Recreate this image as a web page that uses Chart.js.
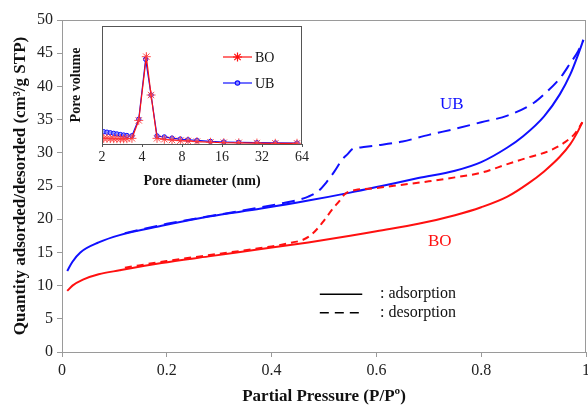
<!DOCTYPE html>
<html>
<head>
<meta charset="utf-8">
<script src="https://cdn.jsdelivr.net/npm/chart.js@4/dist/chart.umd.min.js"></script>
<style>
  body { margin: 0; background: #fff; }
  #wrap { position: relative; width: 588px; height: 407px; overflow: hidden; }
  #main { position: absolute; left: 0; top: 0; }
  #inset { position: absolute; left: 66px; top: 20px; }
</style>
</head>
<body>
<div id="wrap">
  <canvas id="main" width="588" height="407"></canvas>
  <canvas id="inset" width="250" height="172"></canvas>
</div>
<script>
// isotherms, P/P0 vs quantity (cm3/g STP)
const boAdsX = [0.01, 0.02, 0.04, 0.07, 0.11, 0.19, 0.28, 0.38, 0.47, 0.55, 0.6, 0.68, 0.75, 0.8, 0.85, 0.89, 0.92, 0.95, 0.97, 0.985, 0.993]
const boAdsY = [9.2, 10.0, 10.9, 11.7, 12.3, 13.4, 14.4, 15.5, 16.5, 17.5, 18.2, 19.3, 20.6, 21.8, 23.4, 25.4, 27.2, 29.4, 31.3, 33.3, 34.6]
const boDesX = [0.12, 0.2, 0.3, 0.4, 0.44, 0.46, 0.475, 0.49, 0.5, 0.515, 0.53, 0.54, 0.55, 0.56, 0.6, 0.65, 0.7, 0.75, 0.8, 0.85, 0.89, 0.93, 0.96, 0.98, 0.993]
const boDesY = [12.7, 13.7, 14.8, 15.9, 16.5, 16.9, 17.6, 18.8, 19.8, 21.4, 22.8, 23.8, 24.2, 24.4, 24.7, 25.2, 25.7, 26.3, 27.0, 28.3, 29.3, 30.3, 31.6, 33.0, 34.6]
const ubAdsX = [0.01, 0.02, 0.035, 0.07, 0.11, 0.19, 0.28, 0.38, 0.47, 0.55, 0.61, 0.68, 0.75, 0.8, 0.85, 0.88, 0.92, 0.95, 0.97, 0.985, 0.995]
const ubAdsY = [12.2, 13.6, 15.0, 16.5, 17.6, 19.0, 20.4, 21.6, 22.8, 24.0, 25.0, 26.2, 27.3, 28.6, 30.8, 32.5, 35.5, 38.8, 41.8, 44.8, 47.0]
const ubDesX = [0.12, 0.2, 0.3, 0.38, 0.42, 0.45, 0.47, 0.49, 0.505, 0.52, 0.535, 0.545, 0.555, 0.57, 0.6, 0.65, 0.7, 0.75, 0.8, 0.85, 0.9, 0.92, 0.95, 0.97, 0.985, 0.995]
const ubDesY = [17.9, 19.3, 20.7, 21.8, 22.4, 22.9, 23.4, 24.3, 25.6, 27.2, 29.0, 29.8, 30.6, 30.8, 31.1, 31.7, 32.7, 33.6, 34.6, 35.6, 37.5, 38.8, 41.2, 43.5, 45.3, 47.0]

// inset: pore size distribution (relative units)
const poreTicks = [2, 4, 8, 16, 32, 64]
const boPoreX = [2.06, 2.18, 2.31, 2.45, 2.59, 2.75, 2.91, 3.08, 3.36, 3.78, 4.31, 4.68, 5.19, 5.89, 6.73, 7.77, 8.88, 10.37, 13.1, 16.5, 21.4, 29.3, 40.3, 58.7]
const boPoreY = [0.048, 0.048, 0.046, 0.045, 0.045, 0.044, 0.044, 0.045, 0.048, 0.2, 0.74, 0.415, 0.048, 0.04, 0.034, 0.028, 0.026, 0.02, 0.015, 0.011, 0.01, 0.008, 0.006, 0.006]
const ubPoreX = [2.06, 2.18, 2.31, 2.45, 2.59, 2.75, 2.91, 3.08, 3.36, 3.78, 4.26, 4.68, 5.19, 5.89, 6.73, 7.77, 8.88, 10.37, 13.1, 16.5, 21.4, 29.3, 40.3, 58.7]
const ubPoreY = [0.104, 0.1, 0.095, 0.09, 0.085, 0.08, 0.076, 0.072, 0.07, 0.21, 0.718, 0.415, 0.068, 0.06, 0.05, 0.042, 0.036, 0.03, 0.022, 0.017, 0.014, 0.011, 0.009, 0.008]

const RED = '#ff1010'
const BLUE = '#1010ff'
const SERIF = '"Liberation Serif", "Times New Roman", serif'

function pts(xs, ys) {
    return xs.map((x, i) => ({ x: x, y: ys[i] }))
}

const frame = {
    id: 'frame',
    afterDraw(chart, args, opts) {
        const a = chart.chartArea
        const c = chart.ctx
        c.save()
        c.strokeStyle = opts.color
        c.lineWidth = 1
        c.strokeRect(a.left + 0.5, a.top + 0.5, a.right - a.left - 1, a.bottom - a.top)
        c.restore()
    }
}

const mainNotes = {
    id: 'mainNotes',
    afterDraw(chart) {
        const c = chart.ctx
        const x = chart.scales.x, y = chart.scales.y
        c.save()
        c.font = '17px ' + SERIF
        c.textAlign = 'center'
        c.textBaseline = 'middle'
        c.fillStyle = BLUE
        c.fillText('UB', x.getPixelForValue(0.744), y.getPixelForValue(37.2))
        c.fillStyle = RED
        c.fillText('BO', x.getPixelForValue(0.721), y.getPixelForValue(16.6))
        // line style key
        c.strokeStyle = '#000'
        c.lineWidth = 1.5
        const x0 = x.getPixelForValue(0.492), x1 = x.getPixelForValue(0.573)
        let yy = y.getPixelForValue(8.7)
        c.beginPath(); c.moveTo(x0, yy); c.lineTo(x1, yy); c.stroke()
        let yd = y.getPixelForValue(5.9)
        c.setLineDash([9, 6])
        c.beginPath(); c.moveTo(x0, yd); c.lineTo(x1, yd); c.stroke()
        c.setLineDash([])
        c.fillStyle = '#111'
        c.textAlign = 'left'
        c.font = '16px ' + SERIF
        const tx = x.getPixelForValue(0.607)
        c.fillText(': adsorption', tx, yy)
        c.fillText(': desorption', tx, yd)
        c.restore()
    }
}

new Chart(document.getElementById('main'), {
    type: 'line',
    data: {
        datasets: [
            { data: pts(boAdsX, boAdsY), borderColor: RED, borderWidth: 2 },
            { data: pts(boDesX, boDesY), borderColor: RED, borderWidth: 2, borderDash: [7, 5] },
            { data: pts(ubAdsX, ubAdsY), borderColor: BLUE, borderWidth: 2 },
            { data: pts(ubDesX, ubDesY), borderColor: BLUE, borderWidth: 2, borderDash: [13, 7] }
        ]
    },
    options: {
        responsive: false,
        animation: false,
        layout: { padding: { top: 20, right: 2, left: 0, bottom: 0 } },
        elements: { point: { radius: 0 }, line: { cubicInterpolationMode: 'monotone', fill: false } },
        plugins: { legend: { display: false }, tooltip: { enabled: false }, frame: { color: '#9a9a9a' } },
        scales: {
            x: {
                type: 'linear', min: 0, max: 1,
                afterFit: s => { s.height = 55; s.paddingRight = 0 },
                border: { color: '#9a9a9a' },
                grid: { drawOnChartArea: false, color: '#9a9a9a', tickLength: 5 },
                ticks: {
                    stepSize: 0.2, color: '#222', padding: 4,
                    font: { family: SERIF, size: 16 },
                    callback: v => String(Math.round(v * 10) / 10)
                },
                title: {
                    display: true, text: 'Partial Pressure (P/Pº)', color: '#111',
                    font: { family: SERIF, size: 17, weight: 'bold' }, padding: { top: 0, bottom: 0 }
                }
            },
            y: {
                min: 0, max: 50,
                afterFit: s => { s.width = 62 },
                border: { color: '#9a9a9a' },
                grid: { drawOnChartArea: false, color: '#9a9a9a', tickLength: 5 },
                ticks: { stepSize: 5, color: '#222', padding: 4, font: { family: SERIF, size: 16 } },
                title: {
                    display: true, text: 'Quantity adsorded/desorded (cm³/g STP)', color: '#111',
                    font: { family: SERIF, size: 17, weight: 'bold' }, padding: { top: 10, bottom: 0 }
                }
            }
        }
    },
    plugins: [frame, mainNotes]
})

const insetKey = {
    id: 'insetKey',
    afterDraw(chart) {
        const c = chart.ctx
        const a = chart.chartArea
        const ds = chart.data.datasets
        const x0 = a.left + 121, x1 = a.left + 150
        const rows = [[ds[0], 'BO', a.top + 31], [ds[1], 'UB', a.top + 57]]
        c.save()
        c.font = '14px ' + SERIF
        c.textBaseline = 'middle'
        c.textAlign = 'left'
        rows.forEach(r => {
            const d = r[0]
            c.strokeStyle = d.borderColor
            c.lineWidth = 1.2
            c.beginPath(); c.moveTo(x0, r[2]); c.lineTo(x1, r[2]); c.stroke()
            c.fillStyle = d.pointBackgroundColor || d.borderColor
            Chart.helpers.drawPoint(c, {
                pointStyle: d.pointStyle, radius: d.pointRadius, borderWidth: 1, rotation: 0
            }, (x0 + x1) / 2, r[2])
            c.fillStyle = '#111'
            c.fillText(r[1], x1 + 3, r[2] + 1)
        })
        c.restore()
    }
}

new Chart(document.getElementById('inset'), {
    type: 'line',
    data: {
        datasets: [
            {
                data: pts(boPoreX, boPoreY), borderColor: RED, borderWidth: 1.2,
                pointStyle: 'star', pointRadius: 4.5, pointBorderColor: 'rgba(255,60,60,0.9)', pointBorderWidth: 1
            },
            {
                data: pts(ubPoreX, ubPoreY), borderColor: BLUE, borderWidth: 1.2,
                pointStyle: 'circle', pointRadius: 2.2, pointBorderColor: BLUE,
                pointBackgroundColor: 'rgba(150,150,255,0.8)', pointBorderWidth: 1
            }
        ]
    },
    options: {
        responsive: false,
        animation: false,
        layout: { padding: { top: 6, right: 14, left: 0, bottom: 0 } },
        plugins: { legend: { display: false }, tooltip: { enabled: false }, frame: { color: '#555' } },
        scales: {
            x: {
                type: 'logarithmic', min: 2, max: 64,
                afterFit: s => { s.height = 48 },
                afterBuildTicks: s => { s.ticks = poreTicks.map(v => ({ value: v })) },
                border: { color: '#555' },
                grid: { drawOnChartArea: false, color: '#555', tickLength: 3 },
                ticks: {
                    color: '#222', padding: 2, autoSkip: false, maxRotation: 0,
                    font: { family: SERIF, size: 14 },
                    callback: v => String(v)
                },
                title: {
                    display: true, text: 'Pore diameter (nm)', color: '#111',
                    font: { family: SERIF, size: 14, weight: 'bold' }, padding: { top: 0, bottom: 2 }
                }
            },
            y: {
                min: 0, max: 1,
                afterFit: s => { s.width = 36 },
                border: { color: '#555' },
                grid: { display: false },
                ticks: { display: false },
                title: {
                    display: true, text: 'Pore volume', color: '#111',
                    font: { family: SERIF, size: 14, weight: 'bold' }, padding: { top: 2, bottom: 0 }
                }
            }
        }
    },
    plugins: [frame, insetKey]
})
</script>
</body>
</html>
